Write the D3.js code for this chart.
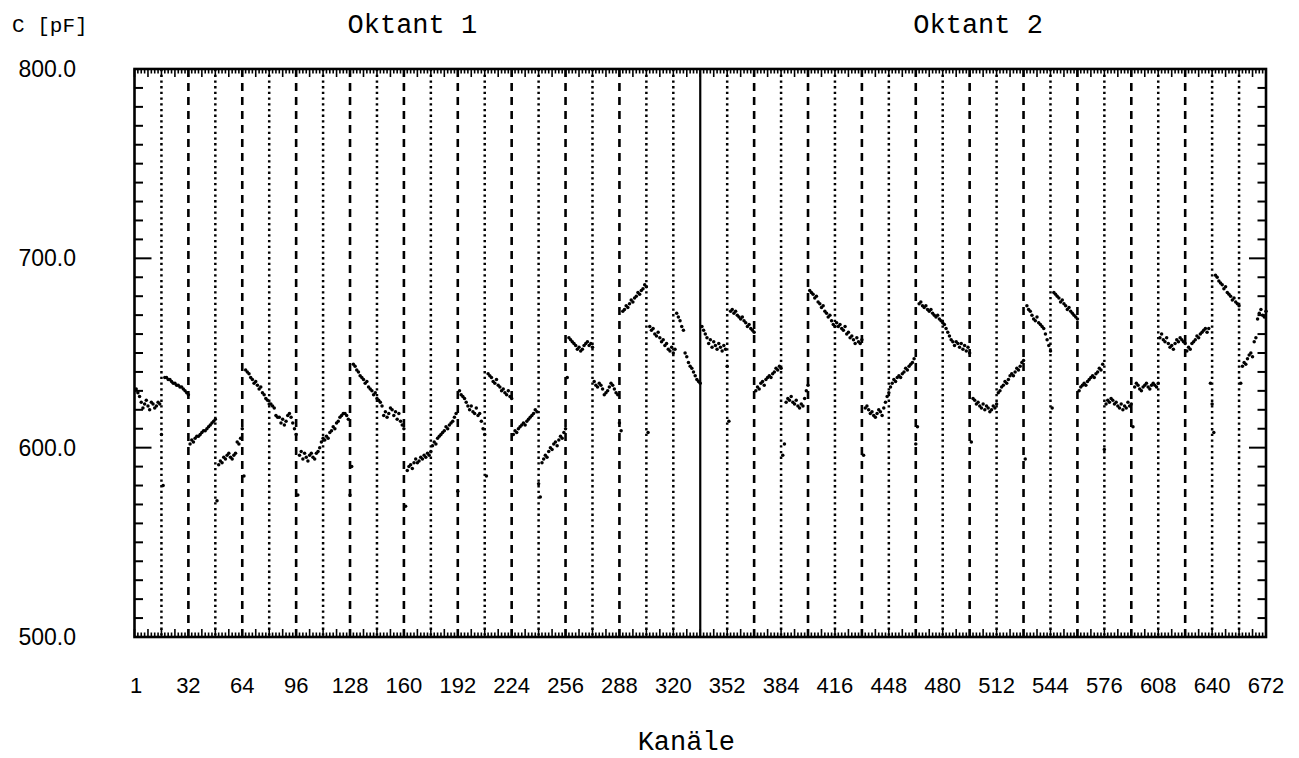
<!DOCTYPE html>
<html>
<head>
<meta charset="utf-8">
<script src="https://cdn.jsdelivr.net/npm/d3@7"></script>
<style>
  html, body { margin: 0; padding: 0; background: #fff; }
  svg { display: block; }
</style>
</head>
<body>
<svg id="chart" width="1299" height="758"></svg>
<script>
// ---- data -------------------------------------------------------------
const channelTickLabels = [1, 32, 64, 96, 128, 160, 192, 224, 256, 288, 320,
  352, 384, 416, 448, 480, 512, 544, 576, 608, 640, 672];
const capTickValues = [500, 600, 700, 800];
const capTickLabels = ["500.0", "600.0", "700.0", "800.0"];
const octantTitles = ["Oktant 1", "Oktant 2"];

// capacitance per channel [pF], one row per 16-channel chip
const oktant1 = [
  [631, 629, 627, 624, 621, 623, 625, 622, 620, 624, 623, 621, 622, 624, 623, 607],
  [580, 637, 637, 636, 636, 635, 634, 634, 633, 633, 632, 632, 631, 630, 629, 628],
  [602, 604, 603, 605, 606, 606, 607, 608, 609, 609, 610, 611, 612, 613, 614, 615],
  [572, 591, 593, 592, 595, 594, 596, 597, 595, 594, 596, 597, 603, 602, 605, 610],
  [585, 641, 640, 639, 637, 636, 634, 635, 633, 631, 632, 629, 628, 626, 625, 623],
  [623, 622, 621, 617, 616, 616, 613, 615, 612, 614, 617, 618, 616, 613, 610, 607],
  [575, 596, 598, 594, 597, 595, 593, 596, 597, 595, 594, 597, 598, 600, 603, 605],
  [604, 606, 605, 608, 609, 611, 610, 613, 614, 616, 617, 618, 618, 617, 615, 575],
  [590, 644, 643, 641, 640, 638, 637, 636, 634, 635, 632, 631, 630, 628, 629, 626],
  [625, 624, 622, 617, 619, 616, 618, 621, 620, 617, 619, 615, 618, 614, 612, 610],
  [569, 588, 590, 591, 589, 592, 594, 592, 593, 595, 594, 596, 595, 597, 596, 598],
  [601, 603, 602, 605, 606, 607, 608, 609, 611, 610, 612, 613, 614, 616, 618, 577],
  [630, 628, 627, 626, 624, 622, 620, 622, 619, 618, 621, 617, 618, 614, 610, 607],
  [585, 639, 638, 637, 635, 634, 636, 633, 632, 630, 631, 629, 628, 630, 627, 626],
  [607, 609, 608, 610, 611, 612, 613, 612, 614, 615, 616, 617, 618, 620, 619, 581],
  [574, 592, 594, 596, 595, 598, 600, 599, 602, 603, 601, 604, 606, 605, 608, 610],
  [637, 658, 657, 656, 655, 654, 652, 653, 651, 652, 654, 655, 656, 654, 655, 653],
  [635, 633, 632, 634, 633, 631, 628, 629, 630, 632, 634, 633, 631, 629, 628, 613],
  [609, 672, 673, 675, 674, 676, 678, 677, 679, 680, 682, 681, 683, 684, 686, 685],
  [608, 664, 662, 663, 660, 659, 661, 658, 656, 657, 654, 655, 652, 651, 653, 650],
  [652, 671, 669, 667, 664, 662, 650, 648, 645, 643, 642, 640, 638, 636, 635, 634]
];

const oktant2 = [
  [664, 662, 660, 658, 655, 657, 653, 656, 654, 652, 655, 653, 651, 654, 652, 643],
  [614, 672, 673, 671, 672, 670, 669, 668, 669, 667, 666, 664, 665, 663, 662, 661],
  [630, 632, 631, 634, 635, 633, 636, 637, 638, 637, 639, 640, 642, 641, 643, 642],
  [596, 602, 624, 626, 625, 627, 624, 623, 625, 622, 621, 623, 622, 626, 630, 633],
  [683, 682, 681, 679, 680, 677, 676, 674, 675, 672, 671, 669, 670, 667, 665, 664],
  [666, 664, 665, 663, 662, 664, 660, 661, 658, 659, 657, 655, 658, 656, 655, 657],
  [596, 621, 622, 620, 618, 619, 617, 616, 618, 620, 619, 617, 621, 624, 627, 629],
  [632, 634, 636, 635, 637, 638, 637, 639, 640, 642, 641, 643, 644, 645, 647, 602],
  [611, 676, 677, 675, 674, 675, 673, 672, 673, 671, 670, 669, 670, 668, 667, 666],
  [665, 663, 661, 659, 657, 656, 654, 656, 655, 653, 655, 652, 654, 651, 653, 650],
  [603, 626, 625, 623, 624, 622, 621, 623, 620, 622, 621, 619, 620, 622, 621, 623],
  [629, 630, 632, 633, 635, 634, 636, 638, 639, 638, 640, 642, 641, 643, 645, 646],
  [594, 675, 673, 672, 670, 668, 667, 669, 666, 665, 664, 663, 660, 657, 654, 651],
  [621, 682, 681, 680, 679, 677, 678, 676, 675, 673, 674, 672, 671, 670, 669, 668],
  [630, 632, 633, 634, 633, 635, 636, 637, 638, 637, 639, 640, 642, 641, 644, 599],
  [623, 625, 624, 626, 625, 623, 624, 622, 621, 623, 620, 622, 621, 624, 622, 623],
  [611, 632, 634, 633, 631, 630, 632, 633, 634, 632, 631, 633, 634, 633, 632, 634],
  [658, 660, 657, 656, 658, 655, 653, 654, 652, 655, 657, 656, 658, 657, 656, 655],
  [651, 653, 652, 655, 656, 657, 659, 658, 660, 661, 662, 663, 661, 663, 634, 623],
  [608, 691, 690, 688, 687, 686, 684, 685, 682, 681, 680, 678, 679, 677, 676, 675],
  [634, 643, 645, 644, 647, 649, 650, 648, 656, 658, 668, 671, 673, 670, 669, 672]
];

// ---- layout -----------------------------------------------------------
const CHIP = 16, OCTANT = 336, NCH = 672;
const plot = { left: 134.5, right: 1266, top: 69, bottom: 637 };

const svg = d3.select("#chart");
const x = d3.scaleLinear().domain([0, NCH]).range([plot.left, plot.right]);
const y = d3.scaleLinear().domain([500, 800]).range([plot.bottom, plot.top]);

// flatten the chip rows into (channel, value) points
const points = [];
[oktant1, oktant2].forEach((oct, o) => {
  oct.forEach((chip, c) => {
    chip.forEach((v, i) => {
      points.push({ ch: o * OCTANT + c * CHIP + i + 1, v });
    });
  });
});

// ---- chip boundaries --------------------------------------------------
const bounds = d3.range(CHIP, NCH, CHIP).map(b => {
  const off = b % OCTANT;
  let kind;
  if (b === OCTANT) kind = "solid";
  else if (off % 32 === 0 && off !== 320) kind = "dashed";
  else kind = "dotted";
  return { b, kind };
});

const styleFor = {
  solid:  { w: 2.2, dash: null },
  dashed: { w: 2.6, dash: "8 6" },
  dotted: { w: 2.5, dash: "2.3 3.4" }
};

svg.append("g").selectAll("line")
  .data(bounds)
  .join("line")
  .attr("x1", d => x(d.b)).attr("x2", d => x(d.b))
  .attr("y1", plot.top).attr("y2", plot.bottom)
  .attr("stroke", "#000")
  .attr("stroke-width", d => styleFor[d.kind].w)
  .attr("stroke-dasharray", d => styleFor[d.kind].dash);

// ---- tick marks on all four sides -------------------------------------
const chTicks = d3.range(0, NCH + 1, 2);
const chLen = c => (c % 8 === 0 ? 8 : 4.5);
const tickG = svg.append("g").attr("stroke", "#000").attr("stroke-width", 1.6);

tickG.selectAll(".tb").data(chTicks).join("line")
  .attr("x1", d => x(d)).attr("x2", d => x(d))
  .attr("y1", plot.bottom).attr("y2", d => plot.bottom - chLen(d));
tickG.selectAll(".tt").data(chTicks).join("line")
  .attr("x1", d => x(d)).attr("x2", d => x(d))
  .attr("y1", plot.top).attr("y2", d => plot.top + chLen(d));

const capTicks = d3.range(500, 801, 10);
const capLen = v => (v % 100 === 0 ? 17 : 8.5);
tickG.selectAll(".tl").data(capTicks).join("line")
  .attr("y1", d => y(d)).attr("y2", d => y(d))
  .attr("x1", plot.left).attr("x2", d => plot.left + capLen(d))
  .attr("stroke-width", 2);
tickG.selectAll(".tr").data(capTicks).join("line")
  .attr("y1", d => y(d)).attr("y2", d => y(d))
  .attr("x1", plot.right).attr("x2", d => plot.right - capLen(d))
  .attr("stroke-width", 2);

// ---- frame ------------------------------------------------------------
svg.append("rect")
  .attr("x", plot.left).attr("y", plot.top)
  .attr("width", plot.right - plot.left).attr("height", plot.bottom - plot.top)
  .attr("fill", "none").attr("stroke", "#000").attr("stroke-width", 2.6);

// ---- measured points --------------------------------------------------
svg.append("g").selectAll("circle")
  .data(points)
  .join("circle")
  .attr("cx", d => x(d.ch))
  .attr("cy", d => y(d.v))
  .attr("r", 1.75)
  .attr("fill", "#000");

// ---- labels -----------------------------------------------------------
const sans = "'Liberation Sans', Arial, sans-serif";
const mono = "'Liberation Mono', 'Courier New', monospace";

svg.append("g").selectAll("text")
  .data(channelTickLabels)
  .join("text")
  .attr("x", d => x(d))
  .attr("y", 693)
  .attr("text-anchor", "middle")
  .attr("font-family", sans).attr("font-size", 22)
  .text(d => d);

svg.append("g").selectAll("text")
  .data(capTickValues)
  .join("text")
  .attr("x", 76)
  .attr("y", d => y(d))
  .attr("dy", "0.35em")
  .attr("text-anchor", "end")
  .attr("font-family", sans).attr("font-size", 23)
  .text((d, i) => capTickLabels[i]);

svg.append("text")
  .attr("x", 12).attr("y", 32)
  .attr("font-family", mono).attr("font-size", 21)
  .text("C [pF]");

svg.append("g").selectAll("text")
  .data(octantTitles)
  .join("text")
  .attr("x", (d, i) => x(i * OCTANT + OCTANT / 2) - 5)
  .attr("y", 33)
  .attr("text-anchor", "middle")
  .attr("font-family", mono).attr("font-size", 27)
  .text(d => d);

svg.append("text")
  .attr("x", x(NCH / 2) - 14).attr("y", 750)
  .attr("text-anchor", "middle")
  .attr("font-family", mono).attr("font-size", 27)
  .text("Kanäle");
</script>
</body>
</html>
